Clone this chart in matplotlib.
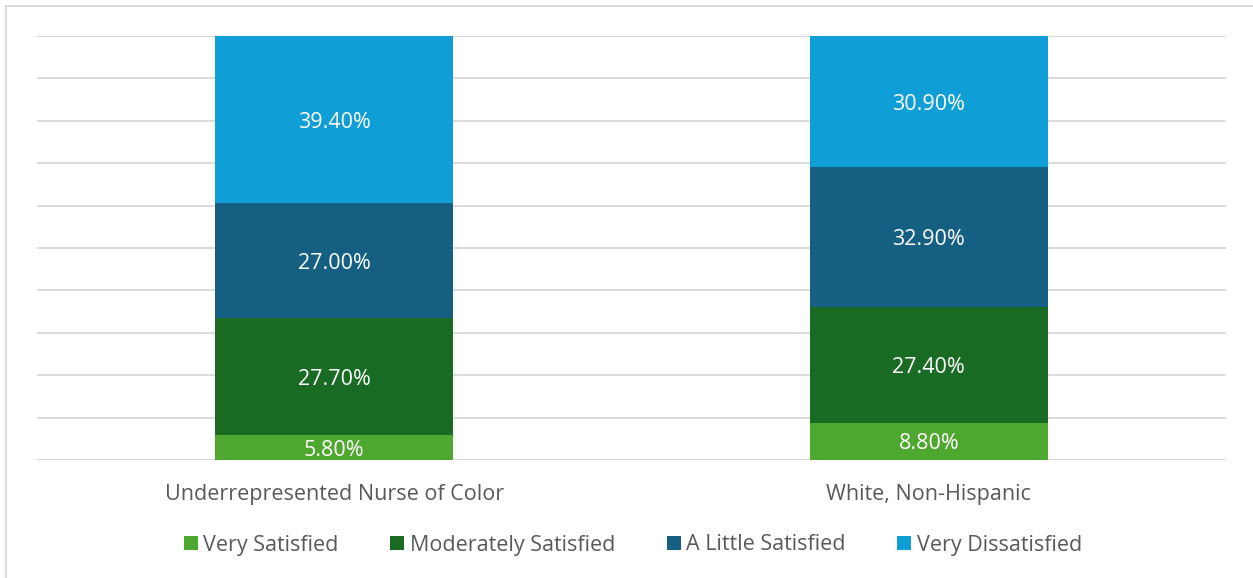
import numpy as np
import matplotlib
matplotlib.use("Agg")
import matplotlib.pyplot as plt
from matplotlib.lines import Line2D
from matplotlib.patches import Patch

plt.rcParams['font.family'] = ['Open Sans', 'DejaVu Sans']

categories = ["Underrepresented Nurse of Color", "White, Non-Hispanic"]
series_names = ["Very Satisfied", "Moderately Satisfied", "A Little Satisfied", "Very Dissatisfied"]
very_satisfied = [5.8, 8.8]
moderately_satisfied = [27.7, 27.4]
little_satisfied = [27.0, 32.9]
very_dissatisfied = [39.4, 30.9]
colors = ["#4EA72E", "#196B24", "#156082", "#0F9ED5"]

series = [very_satisfied, moderately_satisfied, little_satisfied, very_dissatisfied]

fig = plt.figure(figsize=(12.53, 5.78), dpi=100)
ax = fig.add_axes([37 / 1253, 1 - 460 / 578, (1226 - 37) / 1253, (460 - 36) / 578])

x = np.arange(len(categories))
bottom = np.zeros(len(categories))
for name, vals, col in zip(series_names, series, colors):
    vals = np.array(vals)
    ax.bar(x, vals, 0.4, bottom=bottom, color=col, label=name, zorder=3)
    for xi, b, v in zip(x, bottom, vals):
        ax.text(xi, b + v / 2, f"{v:.2f}%", ha="center", va="center_baseline",
                color="white", fontsize=15.5, zorder=4)
    bottom += vals

ax.set_xlim(-0.5, 1.5)
ax.set_ylim(0, 100)
ax.set_yticks(np.arange(0, 101, 10))
ax.yaxis.grid(True, color="#D9D9D9", linewidth=1.3, zorder=0)
ax.tick_params(axis="y", left=False, labelleft=False)
ax.tick_params(axis="x", length=0, pad=17, labelsize=15.5, labelcolor="#595959")
ax.set_xticks(x)
ax.set_xticklabels(categories)
for s in ax.spines.values():
    s.set_visible(False)

# chart border (partially visible)
fig.add_artist(Line2D([6 / 1253, 6 / 1253], [0, 1 - 6 / 578], color="#D9D9D9",
                      linewidth=1.3, transform=fig.transFigure))
fig.add_artist(Line2D([6 / 1253, 1], [1 - 6 / 578, 1 - 6 / 578], color="#D9D9D9",
                      linewidth=1.3, transform=fig.transFigure))

handles = [Patch(facecolor=c, edgecolor="none") for c in colors]
fig.legend(handles, series_names, loc="center", bbox_to_anchor=(633 / 1253, 1 - 545 / 578),
           ncol=4, frameon=False, fontsize=15.5, labelcolor="#595959",
           handlelength=0.65, handleheight=0.65, handletextpad=0.25, columnspacing=2.4)

fig.savefig("out.png", dpi=100)
